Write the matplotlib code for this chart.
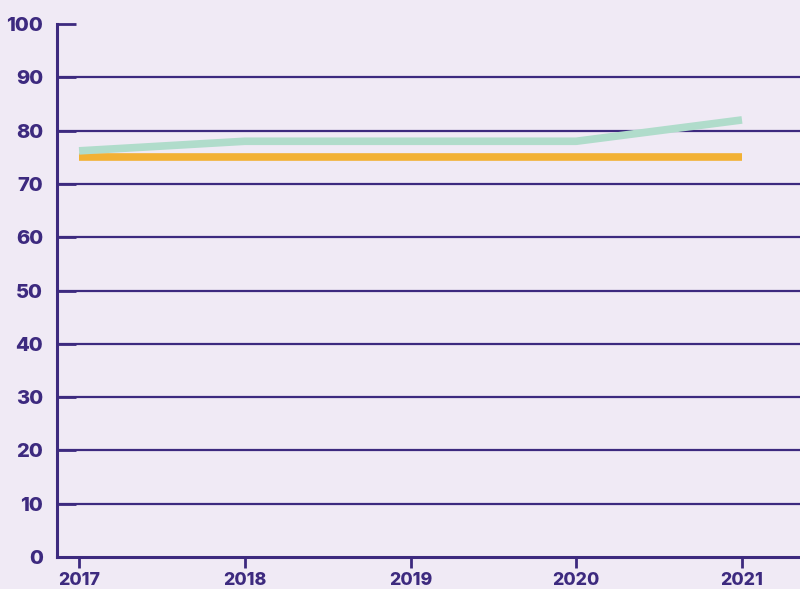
import numpy as np
import matplotlib.pyplot as plt

years = [2017, 2018, 2019, 2020, 2021]
green_vals = [76.2, 78, 78, 78, 82]
orange_vals = [75, 75, 75, 75, 75]
y_ticks = [0, 10, 20, 30, 40, 50, 60, 70, 80, 90, 100]

bg = '#F0EAF5'
purple = '#3D2A7F'
green = '#B0DCCB'
orange = '#F2B134'

plt.rcParams['font.family'] = ['Inter', 'DejaVu Sans']

fig = plt.figure(figsize=(8, 5.89), dpi=100, facecolor=bg)
ax = fig.add_axes([57/800, 32/589, 743/800, 533/589])
ax.set_facecolor(bg)

# horizontal grid lines (not at 0 and 100)
for v in y_ticks[1:-1]:
    ax.axhline(v, color=purple, lw=1.6, zorder=1)

ax.plot(years, orange_vals, color=orange, lw=5.5, solid_capstyle='butt', zorder=3)
ax.plot(years, green_vals, color=green, lw=5.5, solid_capstyle='butt', zorder=3)

ax.set_ylim(0, 100)
ax.set_xlim(2016.867, 2021.35)
ax.set_yticks(y_ticks)
ax.set_xticks(years)

for s in ['top', 'right']:
    ax.spines[s].set_visible(False)
for s in ['left', 'bottom']:
    ax.spines[s].set_color(purple)
    ax.spines[s].set_linewidth(2.2)

ax.tick_params(axis='y', direction='in', length=14, width=2, color=purple,
               labelcolor=purple, labelsize=14.5, pad=10)
ax.tick_params(axis='x', direction='out', length=8, width=2, color=purple,
               labelcolor=purple, labelsize=12.8, pad=3)
for lab in ax.get_xticklabels() + ax.get_yticklabels():
    lab.set_fontweight('heavy')

fig.savefig('out.png', dpi=100, facecolor=bg)
